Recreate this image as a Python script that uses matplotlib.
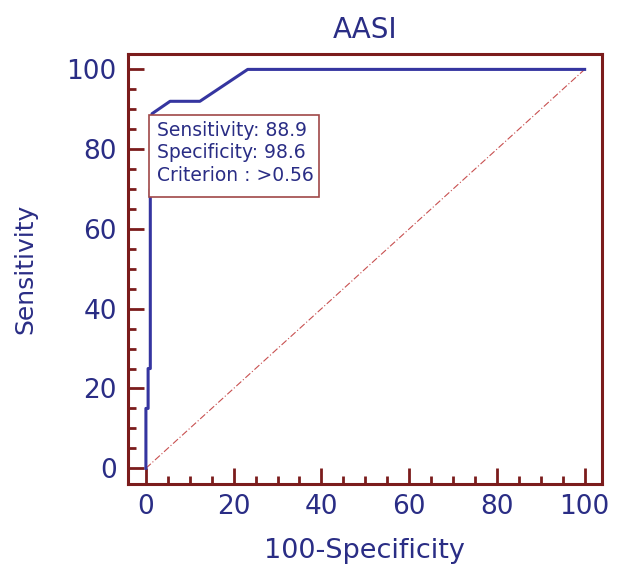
import matplotlib.pyplot as plt
from matplotlib.patches import Rectangle
from matplotlib.ticker import MultipleLocator

# ROC curve points (100-Specificity, Sensitivity)
fpr = [0, 0, 0.5, 0.5, 1.0, 1.0, 1.4, 1.4, 5.5, 12.3, 23.2, 100]
tpr = [0, 15, 15, 25, 25, 70, 70, 88.9, 92, 92, 100, 100]

diag_x = [0, 100]
diag_y = [0, 100]

box_lines = ["Sensitivity: 88.9", "Specificity: 98.6", "Criterion : >0.56"]

frame_col = "#7b1c1c"
curve_col = "#3535a0"
text_col = "#2a2d85"

plt.rcParams["font.family"] = ["DejaVu Sans"]

fig = plt.figure(figsize=(6.21, 5.65), dpi=100)
ax = fig.add_axes([0.206, 0.143, 0.763, 0.761])

ax.plot(fpr, tpr, color=curve_col, linewidth=2.2, zorder=3)
ax.plot(diag_x, diag_y, color="#c85050", linewidth=0.8,
        linestyle=(0, (6, 2, 1, 2)), zorder=2)

ax.set_xlim(-4.1, 103.9)
ax.set_ylim(-4, 103.8)

ax.xaxis.set_major_locator(MultipleLocator(20))
ax.xaxis.set_minor_locator(MultipleLocator(5))
ax.yaxis.set_major_locator(MultipleLocator(20))
ax.yaxis.set_minor_locator(MultipleLocator(5))

ax.tick_params(which="major", direction="in", length=11.5, width=2,
               color=frame_col, labelcolor=text_col, labelsize=19)
ax.tick_params(axis="y", which="major", pad=8)
ax.tick_params(axis="x", which="major", pad=7)
ax.tick_params(which="minor", direction="in", length=5.5, width=2,
               color=frame_col)

for s in ax.spines.values():
    s.set_color(frame_col)
    s.set_linewidth(2.2)

ax.set_title("AASI", color=text_col, fontsize=20, pad=12)
ax.set_xlabel("100-Specificity", color=text_col, fontsize=19.5, labelpad=13)
ax.set_ylabel("Sensitivity", color=text_col, fontsize=18, labelpad=21)

# criterion box anchored at the operating point
ax.add_patch(Rectangle((0.7, 67.9), 38.8, 20.6, facecolor="white",
                       edgecolor="#a04848", linewidth=1.2, zorder=4))
for i, line in enumerate(box_lines):
    ax.text(2.5, 84.7 - i * 5.65, line, color=text_col, fontsize=13.5,
            va="center", ha="left", zorder=5)

plt.savefig("out.png", dpi=100)
plt.close()
